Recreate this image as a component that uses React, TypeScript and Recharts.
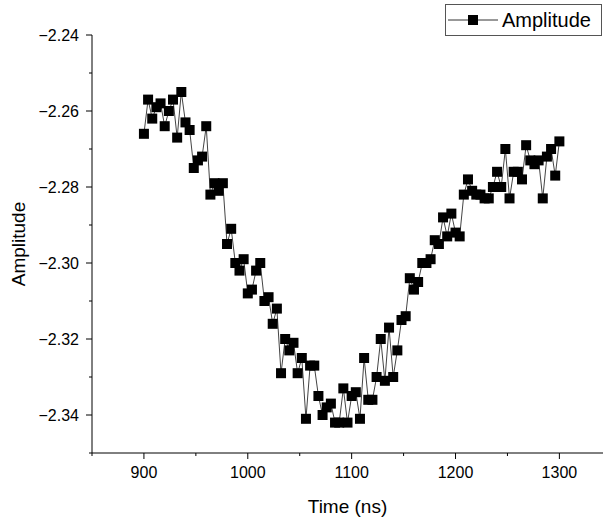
import { LineChart, Line, XAxis, YAxis } from "recharts";

const times: number[] = [
  900, 904, 908, 912, 916, 920, 924, 928, 932, 936, 940, 944, 948, 952, 956, 960,
  964, 968, 972, 976, 980, 984, 988, 992, 996, 1000, 1004, 1008, 1012, 1016, 1020,
  1024, 1028, 1032, 1036, 1040, 1044, 1048, 1052, 1056, 1060, 1064, 1068, 1072,
  1076, 1080, 1084, 1088, 1092, 1096, 1100, 1104, 1108, 1112, 1116, 1120, 1124,
  1128, 1132, 1136, 1140, 1144, 1148, 1152, 1156, 1160, 1164, 1168, 1172, 1176,
  1180, 1184, 1188, 1192, 1196, 1200, 1204, 1208, 1212, 1216, 1220, 1224, 1228,
  1232, 1236, 1240, 1244, 1248, 1252, 1256, 1260, 1264, 1268, 1272, 1276, 1280,
  1284, 1288, 1292, 1296, 1300,
];

const amplitude: number[] = [
  -2.266, -2.257, -2.262, -2.259, -2.258, -2.264, -2.26, -2.257, -2.267, -2.255,
  -2.263, -2.265, -2.275, -2.273, -2.272, -2.264, -2.282, -2.279, -2.281, -2.279,
  -2.295, -2.291, -2.3, -2.302, -2.299, -2.308, -2.307, -2.302, -2.3, -2.31,
  -2.309, -2.316, -2.312, -2.329, -2.32, -2.323, -2.321, -2.329, -2.325, -2.341,
  -2.327, -2.327, -2.335, -2.34, -2.338, -2.337, -2.342, -2.342, -2.333, -2.342,
  -2.335, -2.334, -2.341, -2.325, -2.336, -2.336, -2.33, -2.32, -2.331, -2.317,
  -2.33, -2.323, -2.315, -2.314, -2.304, -2.307, -2.305, -2.3, -2.3, -2.299,
  -2.294, -2.295, -2.288, -2.293, -2.287, -2.292, -2.293, -2.282, -2.278, -2.281,
  -2.282, -2.282, -2.283, -2.283, -2.28, -2.276, -2.28, -2.27, -2.283, -2.276,
  -2.276, -2.278, -2.269, -2.273, -2.274, -2.273, -2.283, -2.272, -2.27, -2.277,
  -2.268,
];

const xTicks = [850, 900, 950, 1000, 1050, 1100, 1150, 1200, 1250, 1300];
const yTicks = [
  -2.35, -2.34, -2.33, -2.32, -2.31, -2.3, -2.29, -2.28, -2.27, -2.26, -2.25, -2.24,
];

const data = times.map((t, i) => ({ time: t, amp: amplitude[i] }));

const font = "'Liberation Sans', Arial, sans-serif";

function XTick(props: any) {
  const { x, y, payload } = props;
  const major = payload.value % 100 === 0;
  return (
    <g>
      <line x1={x} x2={x} y1={y} y2={y + (major ? 6 : 3)} stroke="#000" />
      {major && (
        <text x={x} y={y + 25} textAnchor="middle" fontSize={16} fontFamily={font} fill="#000">
          {payload.value}
        </text>
      )}
    </g>
  );
}

function YTick(props: any) {
  const { x, y, payload } = props;
  const major = Math.round(payload.value * 100) % 2 === 0;
  return (
    <g>
      <line x1={x} x2={x - (major ? 6 : 3)} y1={y} y2={y} stroke="#000" />
      {major && (
        <text x={x - 13} y={y + 6} textAnchor="end" fontSize={16} fontFamily={font} fill="#000">
          {"\u2212" + Math.abs(payload.value).toFixed(2)}
        </text>
      )}
    </g>
  );
}

function SquareDot(props: any) {
  const { cx, cy } = props;
  return <rect x={cx - 5} y={cy - 5} width={10} height={10} fill="#000" />;
}

function LegendBox() {
  return (
    <div
      style={{
        position: "absolute",
        top: 4,
        left: 445,
        border: "1px solid #555",
        width: 157,
        height: 32,
        display: "flex",
        alignItems: "center",
        boxSizing: "border-box",
        background: "#fff",
      }}
    >
      <svg width={56} height={30}>
        <line x1={2} x2={52} y1={15} y2={15} stroke="#333" />
        <rect x={22} y={10} width={10} height={10} fill="#000" />
      </svg>
      <span style={{ fontFamily: font, fontSize: 20, color: "#000" }}>Amplitude</span>
    </div>
  );
}

export default function App() {
  return (
    <div style={{ position: "absolute", left: 0, top: 0, width: 603, height: 522 }}>
      <LineChart
        width={603}
        height={522}
        data={data}
        margin={{ top: 35, right: 0, bottom: 0, left: 0 }}
      >
        <XAxis
          dataKey="time"
          type="number"
          domain={[850, 1342]}
          ticks={xTicks}
          tick={<XTick />}
          tickLine={false}
          tickSize={0}
          tickMargin={0}
          height={69}
          axisLine={{ stroke: "#000" }}
          interval={0}
          allowDataOverflow
          label={{
            value: "Time (ns)",
            position: "insideBottom",
            offset: 9,
            fontSize: 19,
            fontFamily: font,
            fill: "#000",
          }}
        />
        <YAxis
          type="number"
          domain={[-2.35, -2.24]}
          ticks={yTicks}
          tick={<YTick />}
          tickLine={false}
          tickSize={0}
          tickMargin={0}
          width={92}
          axisLine={{ stroke: "#000" }}
          interval={0}
          allowDataOverflow
          label={{
            value: "Amplitude",
            angle: -90,
            position: "insideLeft",
            offset: 18,
            fontSize: 19,
            fontFamily: font,
            fill: "#000",
            style: { textAnchor: "middle" },
          }}
        />
        <Line
          dataKey="amp"
          stroke="#444"
          strokeWidth={1}
          dot={<SquareDot />}
          activeDot={false}
          isAnimationActive={false}
        />
      </LineChart>
      <LegendBox />
    </div>
  );
}
